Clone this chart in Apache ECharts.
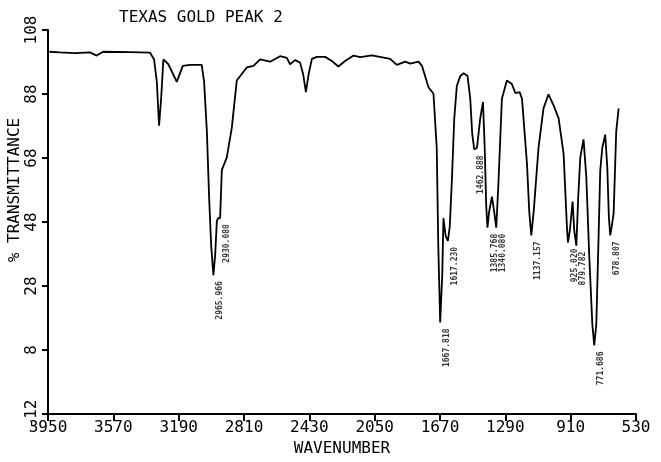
<!DOCTYPE html>
<html>
<head>
<meta charset="utf-8">
<script src="https://cdn.jsdelivr.net/npm/echarts@6/dist/echarts.min.js"></script>
<style>html,body{margin:0;padding:0;background:#fff}#c{width:661px;height:462px}</style>
</head>
<body>
<div id="c"></div>
<script>
const titleText = 'TEXAS GOLD PEAK 2';
const xName = 'WAVENUMBER';
const yName = '% TRANSMITTANCE';
const xTicks = [3950, 3570, 3190, 2810, 2430, 2050, 1670, 1290, 910, 530];
const yTicks = [-12, 8, 28, 48, 68, 88, 108];

const wavenumber = [3942,3880,3793,3706,3667,3630,3473,3356,3333,3317,3304,3292,3279,3250,3201,3166,3124,3056,3042,3026,3013,3001,2988,2978,2968,2961,2949,2939,2910,2881,2852,2794,2755,2716,2658,2600,2561,2542,2513,2484,2466,2450,2434,2415,2386,2338,2299,2261,2222,2173,2134,2066,1960,1921,1872,1843,1795,1775,1737,1708,1698,1689,1680,1669,1657,1650,1637,1624,1613,1601,1587,1572,1552,1533,1510,1494,1483,1471,1455,1436,1420,1410,1401,1394,1384,1368,1355,1343,1331,1310,1281,1252,1232,1207,1193,1164,1151,1139,1125,1097,1068,1039,1010,980,951,932,926,915,899,889,877,866,854,835,819,802,784,773,761,749,738,726,709,697,688,680,671,660,645,631];
const transmittance = [101.2,101.0,100.8,101.0,100.0,101.2,101.1,100.9,98.8,91.8,78.1,86.5,98.8,97.3,91.8,96.8,97.1,97.1,91.8,76.4,55.9,40.6,31.4,37.5,48.2,49.2,49.2,64.2,68.2,77.4,92.2,96.3,96.8,98.8,98.1,99.8,99.3,97.3,98.6,97.8,94.2,88.6,94.2,99.0,99.6,99.6,98.3,96.6,98.3,100.0,99.5,100.1,99.0,97.1,98.1,97.5,98.1,96.8,90.1,88.1,87.6,71.2,40.6,16.6,31.4,49.2,43.6,42.1,46.7,61.0,80.4,90.6,93.6,94.5,93.7,86.5,75.8,70.7,71.2,80.4,85.5,71.2,52.8,46.2,51.3,55.9,51.3,46.2,59.0,86.5,92.2,91.1,88.3,88.6,86.5,66.1,51.3,43.8,51.3,71.2,83.5,87.9,84.5,80.4,69.2,46.7,41.6,45.2,54.4,45.2,40.6,55.9,68.2,73.8,62.0,37.5,16.0,9.4,16.0,40.6,64.1,71.2,75.3,65.1,49.8,43.8,46.7,50.8,76.3,83.5];

const peakWn = [2988, 2949, 1669, 1624, 1471, 1394, 1343, 1139, 926, 877, 773, 680];
const peakT = [31.4, 49.2, 16.6, 42.1, 70.7, 46.2, 46.2, 43.8, 41.6, 40.6, 9.4, 43.8];
const peakText = ['2965.966', '2930.080', '1667.818', '1617.230', '1462.888', '1385.768', '1340.080', '1137.157', '925.020', '879.782', '771.686', '678.807'];

const FONT = 'DejaVu Sans Mono';
const xMin = Math.min(...xTicks), xMax = Math.max(...xTicks);
const yMin = Math.min(...yTicks), yMax = Math.max(...yTicks);
const chart = echarts.init(document.getElementById('c'), null, {renderer: 'canvas'});
chart.setOption({
  animation: false,
  backgroundColor: '#fff',
  title: {
    text: titleText, left: 114, top: 5,
    textStyle: {fontFamily: FONT, fontSize: 16, fontWeight: 'normal', color: '#000'}
  },
  grid: {left: 48, right: 25, top: 30, bottom: 40},
  xAxis: {
    type: 'value', inverse: true, min: xMin, max: xMax, interval: xTicks[0] - xTicks[1],
    name: xName, nameLocation: 'middle', nameGap: 27,
    nameTextStyle: {fontFamily: FONT, fontSize: 16, color: '#000'},
    axisLine: {show: true, onZero: false, lineStyle: {color: '#000', width: 2}},
    axisTick: {show: true, interval: 0, inside: false, length: 7, lineStyle: {color: '#000', width: 2, opacity: 1}},
    axisLabel: {formatter: v => String(v), fontFamily: FONT, fontSize: 16, color: '#000', margin: 6},
    splitLine: {show: false}
  },
  yAxis: {
    type: 'value', min: yMin, max: yMax, interval: yTicks[1] - yTicks[0],
    axisLine: {show: true, onZero: false, lineStyle: {color: '#000', width: 2}},
    axisTick: {show: true, interval: 0, inside: false, length: 6, lineStyle: {color: '#000', width: 2, opacity: 1}},
    axisLabel: {formatter: v => String(v), rotate: 90, fontFamily: FONT, fontSize: 16, color: '#000', margin: 8},
    splitLine: {show: false}
  },
  graphic: [{
    type: 'text', x: 15, y: 190, rotation: Math.PI / 2,
    style: {text: yName, fontFamily: FONT, fontSize: 16, fill: '#000', textAlign: 'center', textVerticalAlign: 'middle'}
  }],
  series: [{
    type: 'line',
    data: wavenumber.map((w, i) => [w, transmittance[i]]),
    showSymbol: false, symbol: 'none',
    lineStyle: {color: '#000', width: 1.8},
    z: 3
  }, {
    type: 'scatter',
    data: peakWn.map((w, i) => ({value: [w, peakT[i]], name: peakText[i]})),
    symbolSize: 0,
    label: {
      show: true, formatter: p => p.name, rotate: 90,
      position: [7, 6], align: 'right', verticalAlign: 'middle',
      fontFamily: FONT, fontSize: 8, fontWeight: 'bold', color: '#000'
    },
    silent: true, z: 4
  }]
});
</script>
</body>
</html>
